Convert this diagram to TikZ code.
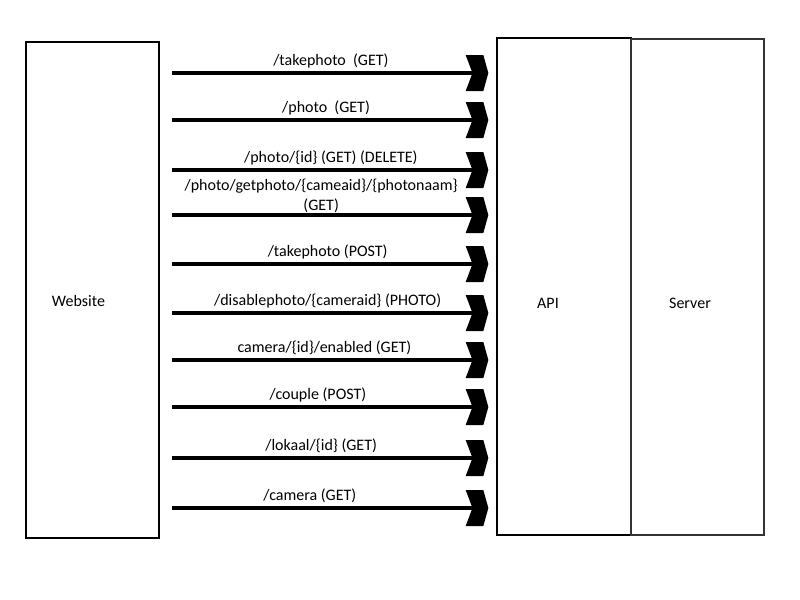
\documentclass[tikz,border=0pt]{standalone}
\usepackage{fontspec}
\setmainfont{Carlito}
\usepackage{tikz}
\usetikzlibrary{arrows.meta}

% chevron shaped arrow tip
\pgfdeclarearrow{
  name = Chevron,
  parameters = {\the\pgfarrowlength,\the\pgfarrowwidth},
  setup code = {
    \pgfarrowssettipend{0pt}
    \pgfarrowssetlineend{-.5\pgfarrowlength}
    \pgfarrowssetvisualbackend{-\pgfarrowlength}
    \pgfarrowssetbackend{-\pgfarrowlength}
    \pgfarrowsupperhullpoint{-\pgfarrowlength}{.5\pgfarrowwidth}
    \pgfarrowsupperhullpoint{0pt}{0pt}
    \pgfarrowssavethe\pgfarrowlength
    \pgfarrowssavethe\pgfarrowwidth
  },
  drawing code = {
    \pgfpathmoveto{\pgfpoint{0pt}{0pt}}
    \pgfpathlineto{\pgfpoint{-.22\pgfarrowlength}{.5\pgfarrowwidth}}
    \pgfpathlineto{\pgfpoint{-\pgfarrowlength}{.5\pgfarrowwidth}}
    \pgfpathlineto{\pgfpoint{-.7\pgfarrowlength}{0pt}}
    \pgfpathlineto{\pgfpoint{-\pgfarrowlength}{-.5\pgfarrowwidth}}
    \pgfpathlineto{\pgfpoint{-.22\pgfarrowlength}{-.5\pgfarrowwidth}}
    \pgfpathclose
    \pgfusepathqfill
  },
  defaults = {length = 17pt, width = 27pt}
}

\tikzset{
  box/.style={draw,line width=1.5pt,minimum width=100pt,minimum height=372.5pt,inner sep=0pt},
  call/.style={-{Chevron},line width=3.2pt,shorten >=6pt},
  lbl/.style={above=-1pt,align=center}
}

\begin{document}
\begin{tikzpicture}[x=0.75pt,y=-0.75pt,font=\fontsize{12}{14.5}\selectfont]
  \useasboundingbox (0,0) rectangle (800,600);

  \node[box] (website) at (92.5,290) {};
  \node[box] (api) at (564,286.5) {};
  \node[box,draw=black!80] (server) at (697.5,287) {};

  \node at (78.5,301) {Website};
  \node at (548,303) {API};
  \node at (690,303) {Server};

  \coordinate (w1) at (172,73);
  \coordinate (w2) at (172,120);
  \coordinate (w3) at (172,170);
  \coordinate (w4) at (172,215);
  \coordinate (w5) at (172,264);
  \coordinate (w6) at (172,313);
  \coordinate (w7) at (172,360);
  \coordinate (w8) at (172,407);
  \coordinate (w9) at (172,458);
  \coordinate (w10) at (172,508);

  \draw[call] (w1) -- node[lbl,pos=.49] {/takephoto\ \ (GET)} (w1 -| api.west);
  \draw[call] (w2) -- node[lbl,pos=.475] {/photo\ \ (GET)} (w2 -| api.west);
  \draw[call] (w3) -- node[lbl,pos=.49] {/photo/\{id\} (GET) (DELETE)} (w3 -| api.west);
  \draw[call] (w4) -- node[lbl,pos=.46,yshift=-2pt] {/photo/getphoto/\{cameaid\}/\{photonaam\}\\(GET)} (w4 -| api.west);
  \draw[call] (w5) -- node[lbl,pos=.48] {/takephoto (POST)} (w5 -| api.west);
  \draw[call] (w6) -- node[lbl,pos=.48] {/disablephoto/\{cameraid\} (PHOTO)} (w6 -| api.west);
  \draw[call] (w7) -- node[lbl,pos=.47] {camera/\{id\}/enabled (GET)} (w7 -| api.west);
  \draw[call] (w8) -- node[lbl,pos=.45] {/couple (POST)} (w8 -| api.west);
  \draw[call] (w9) -- node[lbl,pos=.46] {/lokaal/\{id\} (GET)} (w9 -| api.west);
  \draw[call] (w10) -- node[lbl,pos=.425] {/camera (GET)} (w10 -| api.west);

\end{tikzpicture}
\end{document}
